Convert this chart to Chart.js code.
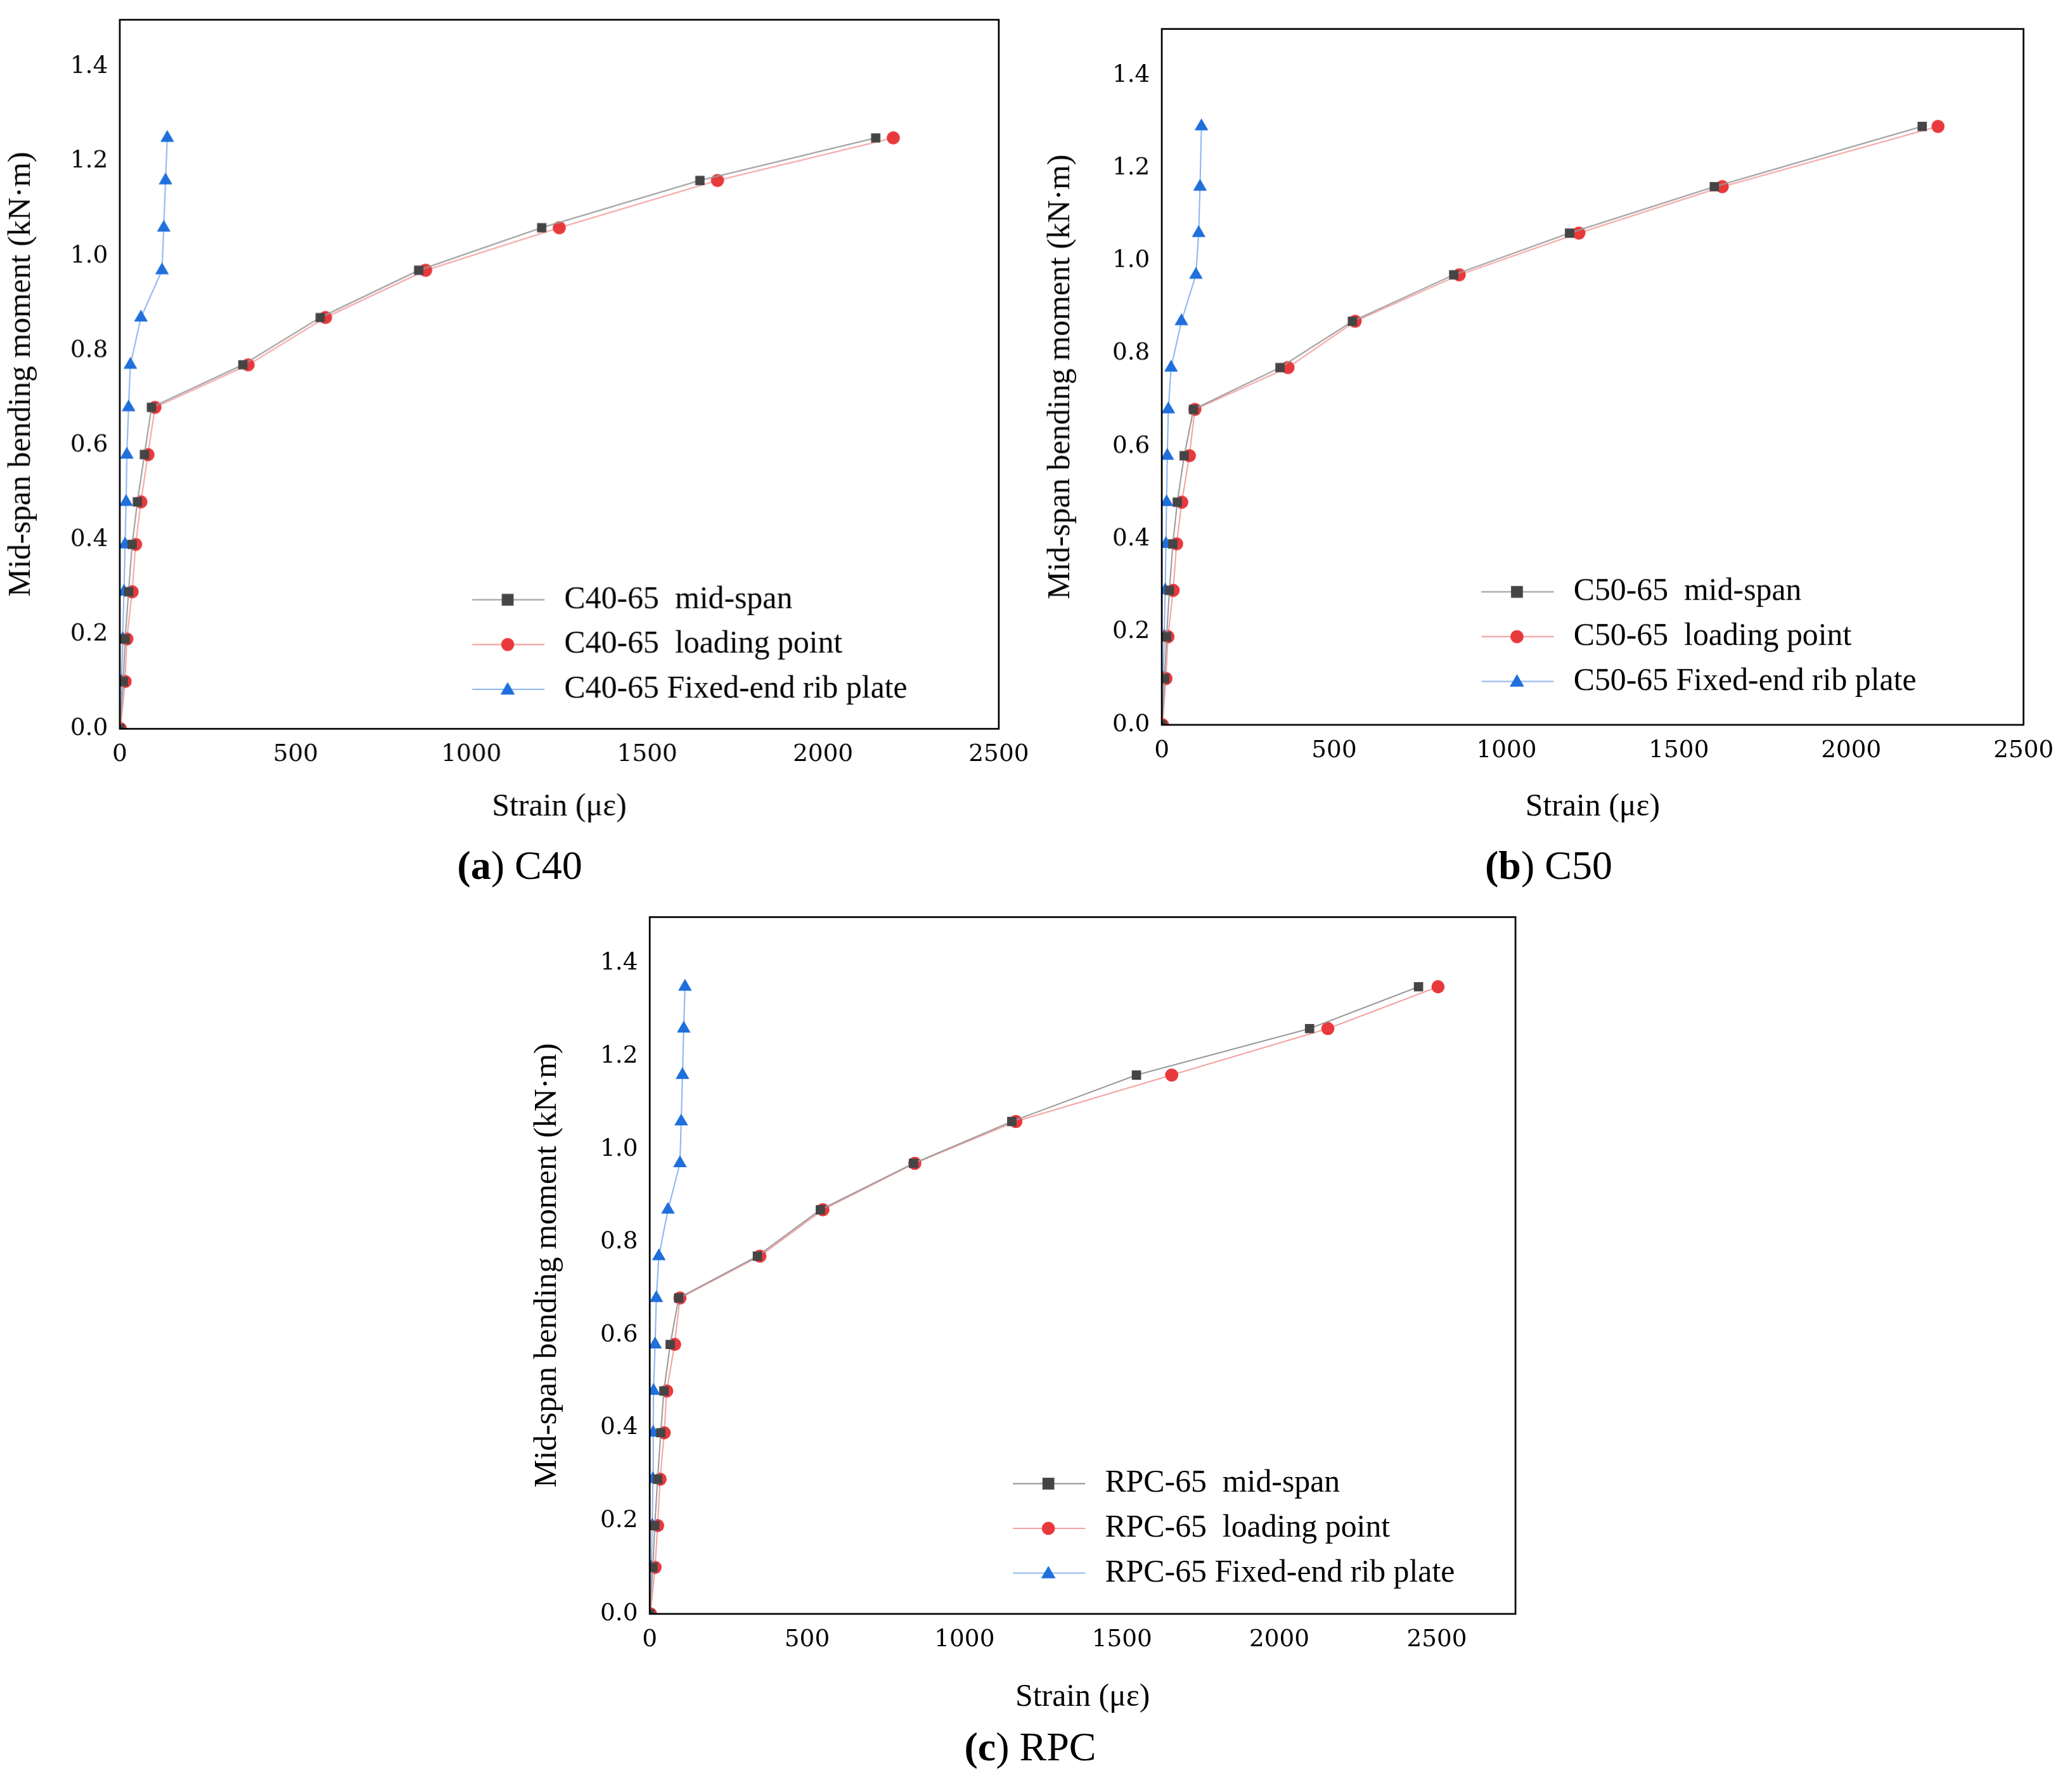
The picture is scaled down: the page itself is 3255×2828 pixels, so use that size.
<!DOCTYPE html>
<html><head><meta charset="utf-8">
<script src="https://cdn.jsdelivr.net/npm/chart.js@4"></script>
<style>
body{margin:0;background:#fff;width:3255px;height:2828px;position:relative;overflow:hidden;font-family:"Liberation Serif","DejaVu Serif",serif}
.box{position:absolute}
.cap{position:absolute;font-size:64px;color:#000;transform:translateX(-50%);white-space:nowrap}
</style></head><body>
<div class="box" id="ba"><canvas id="ca"></canvas></div>
<div class="box" id="bb"><canvas id="cb"></canvas></div>
<div class="box" id="bc"><canvas id="cc"></canvas></div>
<div class="cap" id="capA"><b>(a</b>) C40</div>
<div class="cap" id="capB"><b>(b</b>) C50</div>
<div class="cap" id="capC"><b>(c</b>) RPC</div>
<script>
// ── datos ─────────────────────────────────────────────────
const momentA = [0,0.10,0.19,0.29,0.39,0.48,0.58,0.68,0.77,0.87,0.97,1.06,1.16,1.25];
const midA    = [0,10,15,25,35,50,70,90,350,570,850,1200,1650,2150];
const loadA   = [2,15,20,35,45,60,80,100,365,585,870,1250,1700,2200];
const ribA    = [0,5,8,12,15,18,20,25,30,60,120,125,130,135];

const momentB = [0,0.10,0.19,0.29,0.39,0.48,0.58,0.68,0.77,0.87,0.97,1.06,1.16,1.29];
const midB    = [0,8,14,22,32,45,65,92,343,553,847,1183,1603,2206];
const loadB   = [2,12,18,33,43,58,80,96,366,561,863,1210,1626,2252];
const ribB    = [0,4,7,10,12,14,16,19,27,57,99,107,111,115];

const momentC = [0,0.10,0.19,0.29,0.39,0.48,0.58,0.68,0.77,0.87,0.97,1.06,1.16,1.26,1.35];
const midC    = [0,10,16,25,35,45,65,92,342,542,838,1150,1546,2096,2442];
const loadC   = [2,17,25,33,46,54,79,96,350,550,842,1163,1658,2154,2504];
const ribC    = [0,5,8,10,11,12,17,21,29,58,96,100,104,108,112];

const xTicks = [0,500,1000,1500,2000,2500];
const yTicks = [0,0.2,0.4,0.6,0.8,1.0,1.2,1.4];

const S = 2.076;

const pts = (xs, ys) => xs.map((x, i) => ({ x, y: ys[i] }));

// ── caja del área de trazado + leyenda interna ────────────
const framePlugin = {
  id: 'frame',
  afterDraw(chart) {
    const { ctx, chartArea: a } = chart;
    ctx.save();
    ctx.strokeStyle = '#000';
    ctx.lineWidth = 1.3 * S;
    ctx.strokeRect(a.left, a.top, a.right - a.left, a.bottom - a.top);
    const lg = chart.options.plugins.frame;
    ctx.font = (24 * S) + 'px "Liberation Serif", serif';
    ctx.textBaseline = 'middle';
    chart.data.datasets.forEach((ds, i) => {
      const y = a.bottom - (lg.bottom - i * 34) * S;
      const x0 = a.right - lg.right * S;
      ctx.strokeStyle = ds.borderColor;
      ctx.lineWidth = 1 * S;
      ctx.beginPath(); ctx.moveTo(x0, y); ctx.lineTo(x0 + 55 * S, y); ctx.stroke();
      ctx.fillStyle = ds.pointBackgroundColor;
      const cx = x0 + 27 * S, r = 5 * S;
      ctx.beginPath();
      if (ds.pointStyle === 'rect') ctx.rect(cx - r * 0.9, y - r * 0.9, r * 1.8, r * 1.8);
      else if (ds.pointStyle === 'circle') ctx.arc(cx, y, r, 0, Math.PI * 2);
      else { ctx.moveTo(cx, y - r * 1.1); ctx.lineTo(cx + r * 1.1, y + r * 0.8); ctx.lineTo(cx - r * 1.1, y + r * 0.8); ctx.closePath(); }
      ctx.fill();
      ctx.fillStyle = '#000';
      ctx.fillText(ds.label, x0 + 70 * S, y);
    });
    ctx.restore();
  }
};

function makeChart(id, boxId, geo, names, mids, loads, ribs, moments, xMax, legendPos) {
  const box = document.getElementById(boxId);
  box.style.left = geo.left * S + 'px';
  box.style.top = geo.top * S + 'px';
  const cv = document.getElementById(id);
  cv.style.width = geo.w * S + 'px';
  cv.style.height = geo.h * S + 'px';
  const tickFont = { family: '"DejaVu Serif", serif', size: 18 * S };
  const titleFont = { family: '"Liberation Serif", serif', size: 24 * S };
  const ds = (label, xs, line, fill, style, r) => ({
    label, data: pts(xs, moments), borderColor: line, borderWidth: 1 * S,
    pointStyle: style, pointRadius: r * S, pointBackgroundColor: fill,
    pointBorderWidth: 0, showLine: true, tension: 0
  });
  return new Chart(cv, {
    type: 'scatter',
    data: {
      datasets: [
        ds(names[0], mids, '#9a9a9a', '#454545', 'rect', 5),
        ds(names[1], loads, '#f4a3a3', '#e8393c', 'circle', 5),
        ds(names[2], ribs, '#8db6f0', '#1f6fdc', 'triangle', 6)
      ]
    },
    options: {
      responsive: false, animation: false, devicePixelRatio: 1,
      layout: { padding: { top: geo.padTop * S, right: geo.padRight * S, left: 0, bottom: 0 } },
      plugins: { legend: { display: false }, tooltip: { enabled: false }, frame: legendPos },
      scales: {
        x: {
          type: 'linear', min: 0, max: xMax,
          grid: { display: false, drawTicks: true, tickLength: 5 * S, color: '#000' },
          border: { display: false },
          ticks: { font: tickFont, color: '#000', padding: 4 * S, maxRotation: 0, autoSkip: false,
                   callback: v => String(v) },
          afterBuildTicks: ax => { ax.ticks = xTicks.map(v => ({ value: v })); },
          afterFit: ax => { ax.height = geo.xH * S; },
          title: { display: true, text: 'Strain (με)', font: titleFont, color: '#000', padding: { top: 6 * S } }
        },
        y: {
          type: 'linear', min: 0, max: 1.5,
          grid: { display: false, drawTicks: true, tickLength: 5 * S, color: '#000' },
          border: { display: false },
          ticks: { font: tickFont, color: '#000', padding: 4 * S, autoSkip: false,
                   callback: v => Number(v).toFixed(1) },
          afterBuildTicks: ax => { ax.ticks = yTicks.map(v => ({ value: v })); },
          afterFit: ax => { ax.width = geo.yW * S; },
          title: { display: true, text: 'Mid-span bending moment (kN·m)', font: titleFont, color: '#000', padding: { bottom: 8 * S } }
        }
      }
    },
    plugins: [framePlugin]
  });
}

makeChart('ca', 'ba', { left: 0, top: 0, w: 800, h: 630, yW: 91, xH: 76, padTop: 15, padRight: 41 },
  ['C40-65  mid-span', 'C40-65  loading point', 'C40-65 Fixed-end rib plate'],
  midA, loadA, ribA, momentA, 2500, { bottom: 98, right: 400 });
makeChart('cb', 'bb', { left: 790, top: 0, w: 778, h: 630, yW: 93, xH: 79, padTop: 22, padRight: 30 },
  ['C50-65  mid-span', 'C50-65  loading point', 'C50-65 Fixed-end rib plate'],
  midB, loadB, ribB, momentB, 2500, { bottom: 101, right: 412 });
makeChart('cc', 'bc', { left: 400, top: 680, w: 790, h: 627, yW: 94, xH: 80, padTop: 17, padRight: 38 },
  ['RPC-65  mid-span', 'RPC-65  loading point', 'RPC-65 Fixed-end rib plate'],
  midC, loadC, ribC, momentC, 2750, { bottom: 99, right: 382 });

const cap = (id, x, y) => { const e = document.getElementById(id); e.style.left = x * S + 'px'; e.style.top = y * S + 'px'; };
cap('capA', 395, 640); cap('capB', 1177, 640); cap('capC', 783, 1310);
</script>
</body></html>
